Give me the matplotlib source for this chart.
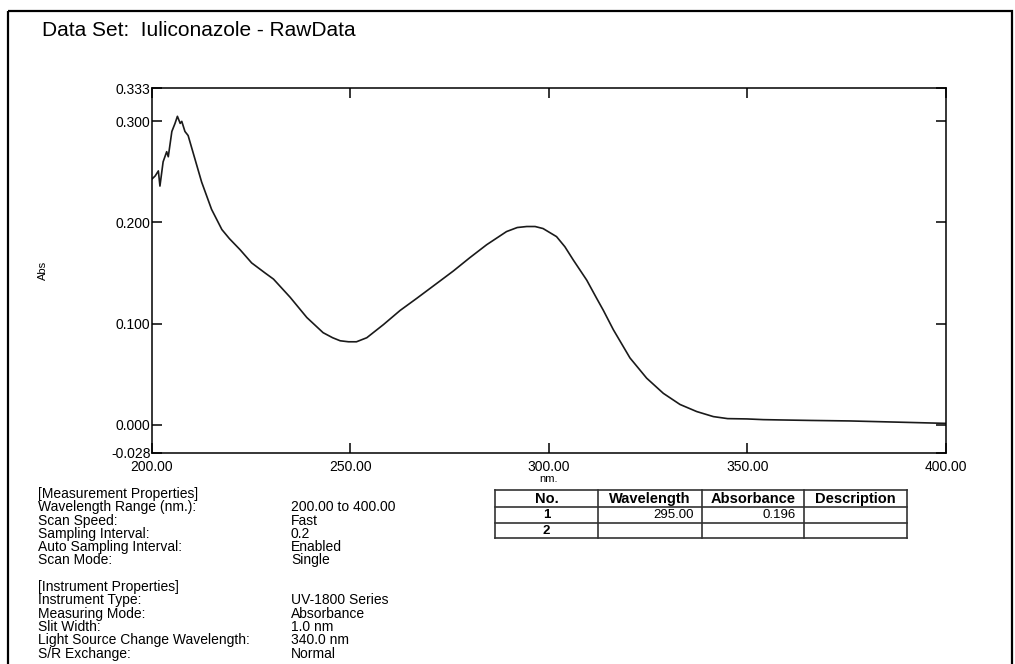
"""UV spectrum printout: Iuliconazole raw data"""

import numpy as np
import matplotlib
matplotlib.use('Agg')
from matplotlib import pyplot as plt
from matplotlib.patches import Rectangle

plt.rcParams['font.family'] = ['Liberation Sans', 'DejaVu Sans']

# spectrum (nm, Abs)
wavelength = [200.0, 200.8, 201.6, 202.0, 202.8, 203.7, 204.1, 205.0, 205.8, 206.4,
              207.1, 207.5, 208.3, 209.1, 210.8, 212.5, 215.0, 217.6, 219.5, 222.2,
              225.1, 228.5, 230.6, 234.8, 239.0, 243.1, 245.5, 247.4, 249.5, 251.5,
              254.1, 258.3, 262.5, 266.7, 272.5, 275.9, 280.0, 284.3, 289.3, 292.0,
              294.4, 296.5, 298.5, 301.9, 304.0, 306.1, 309.5, 312.0, 313.7, 316.2,
              320.4, 324.6, 328.8, 333.0, 337.2, 341.4, 345.0, 349.8, 354.0, 358.2,
              366.0, 375.8, 388.0, 400.0]
absorbance = [0.243, 0.246, 0.251, 0.236, 0.260, 0.270, 0.265, 0.290, 0.298, 0.305,
              0.298, 0.300, 0.290, 0.286, 0.263, 0.240, 0.213, 0.193, 0.184, 0.173,
              0.160, 0.150, 0.144, 0.126, 0.106, 0.091, 0.086, 0.083, 0.082, 0.082,
              0.086, 0.099, 0.113, 0.125, 0.142, 0.152, 0.165, 0.178, 0.191, 0.195,
              0.196, 0.196, 0.194, 0.186, 0.176, 0.163, 0.143, 0.125, 0.113, 0.094,
              0.066, 0.046, 0.031, 0.020, 0.013, 0.008, 0.006, 0.0057, 0.0050, 0.0047,
              0.0042, 0.0037, 0.0025, 0.0013]

x_ticks = [200, 250, 300, 350, 400]
y_ticks = [-0.028, 0.0, 0.1, 0.2, 0.3, 0.333]

# peak table
peak_no = ['1', '2']
peak_wavelength = ['295.00', '']
peak_absorbance = ['0.196', '']
table_header = ['No.', 'Wavelength', 'Absorbance', 'Description']

# properties block
measurement_props = [('Wavelength Range (nm.):', '200.00 to 400.00'),
                     ('Scan Speed:', 'Fast'),
                     ('Sampling Interval:', '0.2'),
                     ('Auto Sampling Interval:', 'Enabled'),
                     ('Scan Mode:', 'Single')]
instrument_props = [('Instrument Type:', 'UV-1800 Series'),
                    ('Measuring Mode:', 'Absorbance'),
                    ('Slit Width:', '1.0 nm'),
                    ('Light Source Change Wavelength:', '340.0 nm'),
                    ('S/R Exchange:', 'Normal')]

W, H = 1015, 664
fig = plt.figure(figsize=(W / 100, H / 100), dpi=100)

# overlay in pixel coords (origin top-left) for the page furniture
page = fig.add_axes([0, 0, 1, 1])
page.set_xlim(0, W)
page.set_ylim(H, 0)
page.axis('off')

page.add_patch(Rectangle((8, 11), 1004, 680, fill=False, lw=1.6, ec='black'))
page.text(42, 30, 'Data Set:  Iuliconazole - RawData', fontsize=15, va='center', ha='left')

# spectrum axes
ax = fig.add_axes([152 / W, 1 - 453 / H, (946 - 152) / W, (453 - 88) / H])
ax.plot(wavelength, absorbance, color='#1a1a1a', lw=1.2)
ax.set_xlim(200, 400)
ax.set_ylim(-0.028, 0.333)
ax.set_xticks(x_ticks)
ax.set_xticklabels(['%.2f' % v for v in x_ticks])
ax.set_yticks(y_ticks)
ax.set_yticklabels(['%.3f' % v for v in y_ticks])
ax.tick_params(axis='both', direction='in', length=7, width=1.1, labelsize=10,
               top=True, right=True)
ax.tick_params(axis='x', pad=5)
ax.tick_params(axis='y', pad=1)
for s in ax.spines.values():
    s.set_linewidth(1.1)
ax.set_xlabel('nm.', fontsize=8, va='center')
ax.xaxis.set_label_coords(0.5, -(479 - 453) / (453 - 88))
ax.set_ylabel('Abs', fontsize=8)
ax.yaxis.set_label_coords(-(152 - 48) / (946 - 152), 0.5)

# properties text
fs = 10
y = 494
page.text(38, y, '[Measurement Properties]', fontsize=fs, va='center')
for label, value in measurement_props:
    y += 13.3
    page.text(38, y, label, fontsize=fs, va='center')
    page.text(291, y, value, fontsize=fs, va='center')
y += 26.6
page.text(38, y, '[Instrument Properties]', fontsize=fs, va='center')
for label, value in instrument_props:
    y += 13.3
    page.text(38, y, label, fontsize=fs, va='center')
    page.text(291, y, value, fontsize=fs, va='center')

# peak table
col_x = [495, 598, 702, 804, 907]
row_y = [490, 507, 523, 538]
for cx in col_x:
    page.plot([cx, cx], [row_y[0], row_y[-1]], color='#333333', lw=1.2)
for ry in row_y:
    page.plot([col_x[0], col_x[-1]], [ry, ry], color='#333333', lw=1.2)
for i, name in enumerate(table_header):
    page.text((col_x[i] + col_x[i + 1]) / 2, (row_y[0] + row_y[1]) / 2 + 0.5, name,
              fontsize=10.5, fontweight='bold', ha='center', va='center')
for r in range(len(peak_no)):
    cy = (row_y[r + 1] + row_y[r + 2]) / 2
    page.text((col_x[0] + col_x[1]) / 2, cy, peak_no[r], fontsize=9.5, fontweight='bold',
              ha='center', va='center')
    page.text(col_x[2] - 8, cy, peak_wavelength[r], fontsize=9.5, ha='right', va='center')
    page.text(col_x[3] - 8, cy, peak_absorbance[r], fontsize=9.5, ha='right', va='center')

fig.savefig('out.png', dpi=100)
